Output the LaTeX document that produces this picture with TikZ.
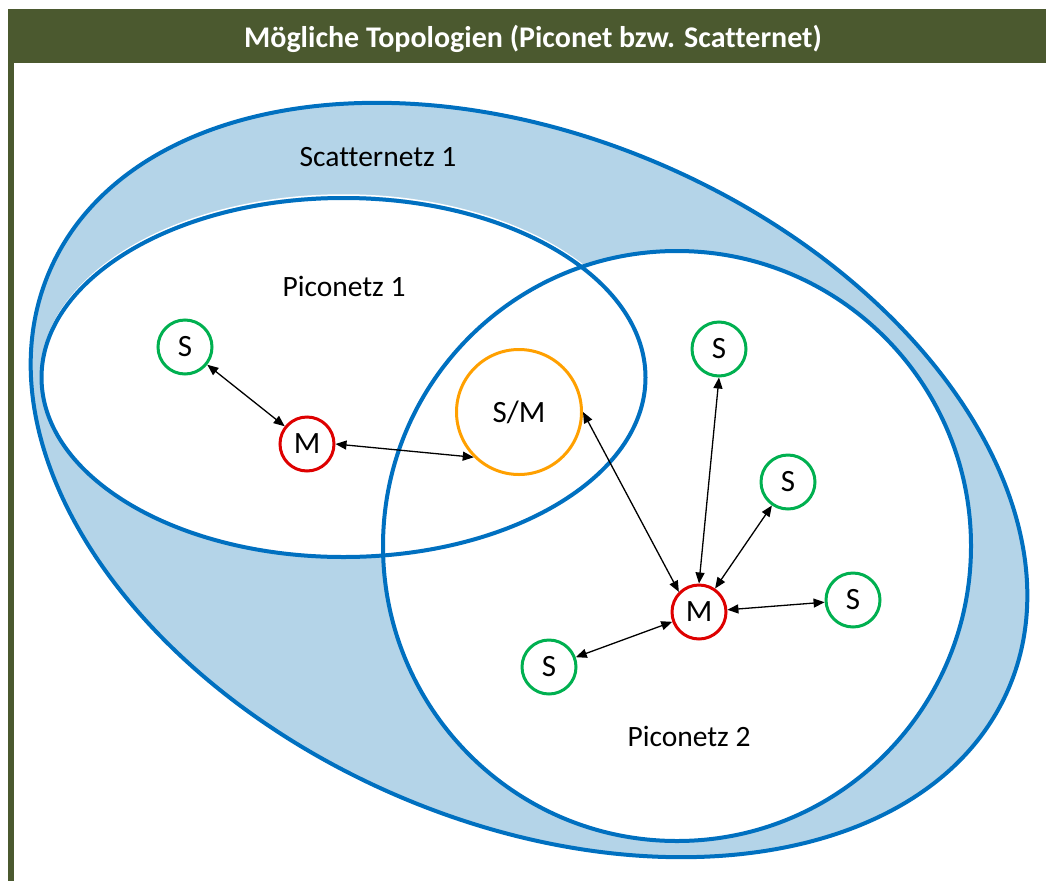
\documentclass[tikz,border=0pt]{standalone}
\usepackage{fontspec}
\setmainfont[Ligatures=NoCommon]{Carlito}
\usetikzlibrary{arrows.meta}
\definecolor{headgreen}{RGB}{75,89,47}
\definecolor{netblue}{RGB}{0,112,192}
\definecolor{netfill}{RGB}{180,212,232}
\definecolor{slavegreen}{RGB}{0,176,80}
\definecolor{masterred}{RGB}{222,0,0}
\definecolor{bridgeorange}{RGB}{255,160,0}

\begin{document}
\begin{tikzpicture}[x=1pt,y=-1pt,
  netline/.style={draw=netblue, line width=4pt},
  dev/.style={circle, draw, line width=3pt, fill=white, minimum size=54pt,
    inner sep=0pt, font=\fontsize{31}{33}\selectfont},
  slave/.style={dev, draw=slavegreen},
  master/.style={dev, draw=masterred},
  bridge/.style={dev, draw=bridgeorange, minimum size=125pt},
  link/.style={{Triangle[length=11pt,width=9pt]}-{Triangle[length=11pt,width=9pt]},
    line width=1.3pt, black},
  lbl/.style={font=\fontsize{29.5}{32}\selectfont}
]
\useasboundingbox (0,0) rectangle (1046,881);

% title bar and left rule
\fill[headgreen] (8,9) rectangle (1046,63);
\fill[headgreen] (8,63) rectangle (14,881);
\node[text=white, anchor=base, font=\fontsize{30}{33}\selectfont\bfseries] (title)
  at (533,47) {Mögliche Topologien (Piconet bzw. Scatternet)};

% scatternet area
\filldraw[netline, fill=netfill, rotate around={-23.7:(529,480)}]
  (529,480) ellipse [x radius=523, y radius=342];

% piconet areas
\fill[white] (343.5,377.5) ellipse [x radius=302, y radius=179.5];
\fill[white] (677,546) ellipse [x radius=294, y radius=295];
\draw[white, line width=1.5pt] (343.5,374.5) ellipse [x radius=302, y radius=179.5];
\draw[netline] (343.5,377.5) ellipse [x radius=302, y radius=179.5];
\draw[netline] (677,546) ellipse [x radius=294, y radius=295];

% labels
\node[lbl] (scat) at (378,157) {Scatternetz 1};
\node[lbl] (pico1) at (344,286) {Piconetz 1};
\node[lbl] (pico2) at (689,736) {Piconetz 2};

% devices
\node[slave] (sa) at (185,347) {S};
\node[master] (ma) at (307,444) {M};
\node[bridge] (sm) at (519,412) {S/M};
\node[slave] (sb) at (719,349) {S};
\node[slave] (sc) at (788,482) {S};
\node[slave] (sd) at (853,600) {S};
\node[slave] (se) at (549,667) {S};
\node[master] (mb) at (699,612) {M};

% links
\draw[link] (sa) -- (ma);
\draw[link] (ma.east) -- (sm.225);
\draw[link] (sm.east) -- (mb.135);
\draw[link] (mb.north) -- (sb.south);
\draw[link] (mb) -- (sc);
\draw[link] (mb) -- (sd);
\draw[link] (mb) -- (se);
\end{tikzpicture}
\end{document}
